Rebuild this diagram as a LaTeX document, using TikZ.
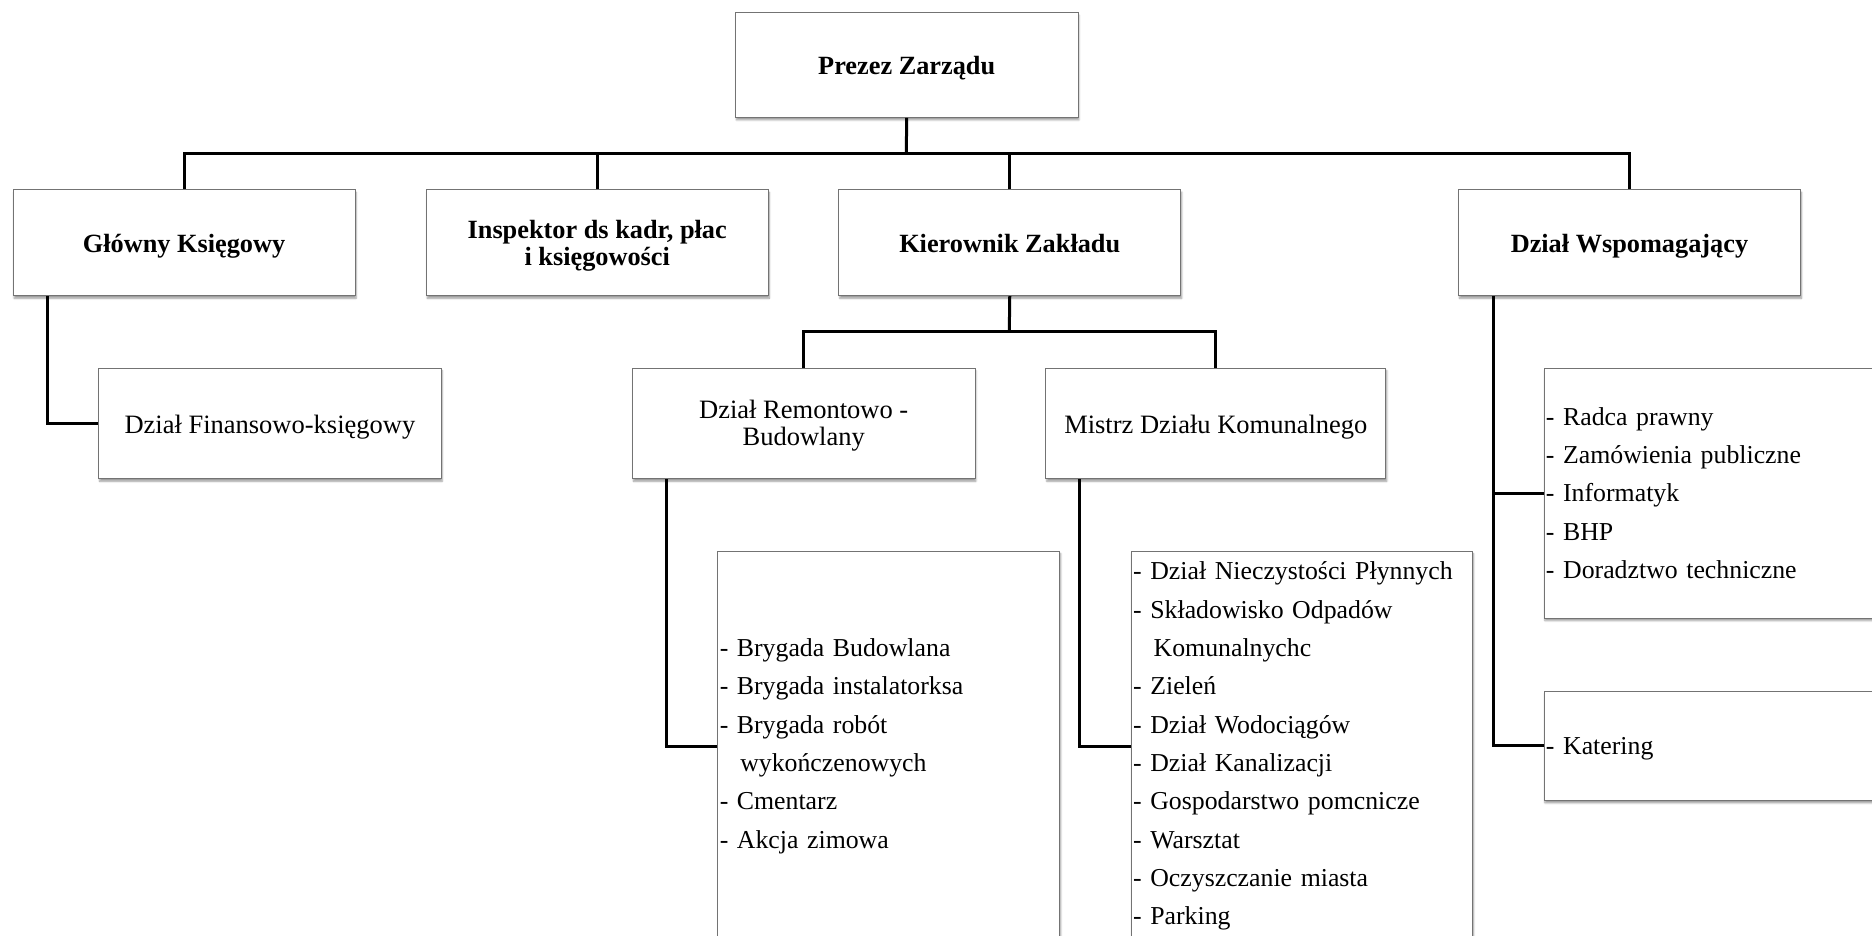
\documentclass[tikz,border=0pt]{standalone}
\usepackage{fontspec}
\setmainfont{Liberation Serif}
\usetikzlibrary{shadows.blur}
\begin{document}
\begin{tikzpicture}[x=1pt,y=-1pt,
  box/.style={draw=black!55, line width=0.9pt, fill=white, anchor=north west, inner sep=0pt,
    blur shadow={shadow xshift=1pt, shadow yshift=-2.5pt, shadow opacity=40, shadow blur steps=5}},
  headbox/.style={box, font=\bfseries\fontsize{26.3pt}{26.7pt}\selectfont, align=center,
    minimum width=342pt, minimum height=106pt},
  headone/.style={headbox, text height=19pt, text depth=0pt},
  unitbox/.style={box, font=\fontsize{26.5pt}{26.7pt}\selectfont, align=center,
    minimum width=342.5pt, minimum height=110.6pt},
  unitone/.style={unitbox, text height=20pt, text depth=0pt},
  listbox/.style={box, font=\fontsize{25.8pt}{38.3pt}\selectfont, align=left, inner xsep=2pt},
  conn/.style={line width=3pt}
]
\useasboundingbox (0,0) rectangle (1872,936);
\clip (0,0) rectangle (1872,936);

% level 0 and 1
\node[headone, minimum width=342.5pt, minimum height=104.7pt] (prezes) at (735,12.3) {Prezez Zarządu};
\node[headone] (glowny) at (12.6,189.3) {Główny Księgowy};
\node[headbox] (inspektor) at (425.8,189.3) {\rule{0pt}{24pt}Inspektor ds kadr, płac\\i księgowości};
\node[headone] (kierownik) at (838.3,189.3) {Kierownik Zakładu};
\node[headone] (wspom) at (1458,189.3) {Dział Wspomagający};

% level 2
\node[unitone] (finans) at (98.2,367.7) {Dział Finansowo-księgowy};
\node[unitbox] (remont) at (632,367.7) {\rule{0pt}{23pt}Dział Remontowo -\\Budowlany};
\node[unitone, minimum width=340pt] (mistrz) at (1045.4,367.7) {Mistrz Działu Komunalnego};

% lists
\node[listbox, minimum height=390pt, text width=338pt] (brygada) at (717.3,550.7)
  {- Brygada Budowlana\\- Brygada instalatorksa\\- Brygada robót\\\hspace*{20.5pt}wykończenowych\\- Cmentarz\\- Akcja zimowa};
\node[listbox, minimum height=390pt, text width=337.3pt] (nieczyst) at (1130.7,550.7)
  {- Dział Nieczystości Płynnych\\- Składowisko Odpadów\\\hspace*{20.5pt}Komunalnychc\\- Zieleń\\- Dział Wodociągów\\- Dział Kanalizacji\\- Gospodarstwo pomcnicze\\- Warsztat\\- Oczyszczanie miasta\\- Parking};
\node[listbox, minimum height=250pt, text width=376pt] (radca) at (1543.5,367.7)
  {- Radca prawny\\- Zamówienia publiczne\\- Informatyk\\- BHP\\- Doradztwo techniczne};
\node[listbox, minimum height=109.3pt, text width=376pt, text height=18pt, text depth=0pt] (katering) at (1543.5,690.7)
  {- Katering};

% connectors
\coordinate (bus) at (906.3,153.3);
\draw[conn] (prezes.south) -- (bus);
\draw[conn] (glowny.north) |- (bus) -| (wspom.north);
\draw[conn] (inspektor.north) -- (inspektor.north |- bus);
\draw[conn] (kierownik.north) -- (kierownik.north |- bus);

\coordinate (sbus) at (1009.3,331.7);
\draw[conn] (kierownik.south) -- (sbus);
\draw[conn] (remont.north) |- (sbus) -| (mistrz.north);

\draw[conn] ([xshift=34.5pt]glowny.south west) |- (finans.west);
\draw[conn] ([xshift=34.5pt]remont.south west) |- (brygada.west);
\draw[conn] ([xshift=34.1pt]mistrz.south west) |- (nieczyst.west);
\draw[conn] ([xshift=35pt]wspom.south west) |- (radca.west);
\draw[conn] ([xshift=35pt]wspom.south west) |- (katering.west);
\end{tikzpicture}
\end{document}
